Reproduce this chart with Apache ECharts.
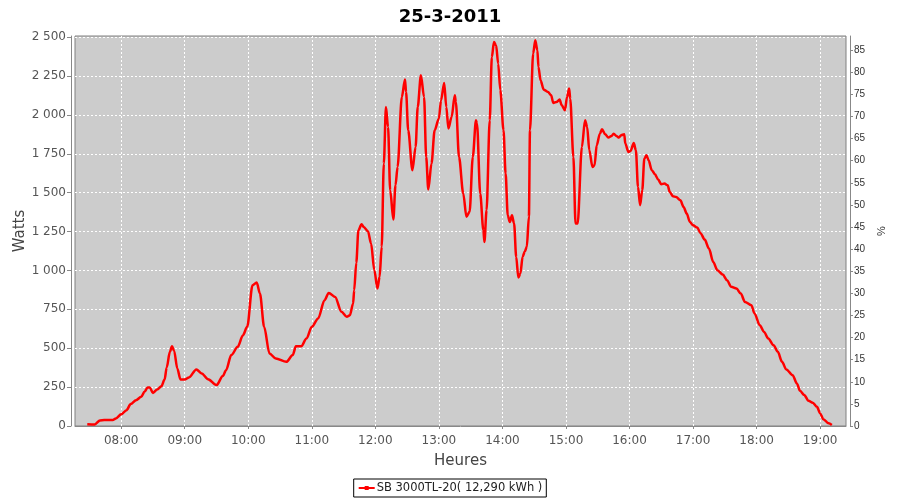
<!DOCTYPE html>
<html>
<head>
<meta charset="utf-8">
<script src="https://cdn.jsdelivr.net/npm/echarts@6/dist/echarts.min.js"></script>
<style>html,body{margin:0;padding:0;background:#fff}#c{width:900px;height:500px}</style>
</head>
<body>
<div id="c"></div>
<script>
const title = '25-3-2011';
const seriesName = 'SB 3000TL-20( 12,290 kWh )';
const times = ['07:28','07:35','07:40','07:44','07:52','07:55','08:00','08:05','08:09','08:14','08:19','08:22','08:25','08:27','08:30','08:34','08:38','08:41','08:43','08:46','08:48','08:50','08:53','08:56','09:00','09:04','09:11','09:16','09:22','09:30','09:36','09:39','09:44','09:50','09:55','09:59','10:04','10:08','10:11','10:15','10:20','10:26','10:36','10:42','10:45','10:50','10:55','11:00','11:06','11:12','11:16','11:22','11:28','11:33','11:36','11:39','11:40','11:42','11:44','11:47','11:49','11:53','11:56','11:59','12:02','12:04','12:06','12:08','12:10','12:12','12:14','12:17','12:19','12:21','12:25','12:28','12:29','12:31','12:35','12:38','12:40','12:43','12:46','12:48','12:50','12:53','12:56','13:00','13:02','13:05','13:07','13:09','13:12','13:15','13:16','13:19','13:23','13:26','13:29','13:32','13:35','13:36','13:39','13:42','13:43','13:45','13:48','13:50','13:52','13:54','13:56','13:58','14:01','14:03','14:05','14:07','14:09','14:11','14:13','14:15','14:17','14:19','14:21','14:23','14:25','14:26','14:29','14:31','14:33','14:34','14:36','14:39','14:43','14:46','14:48','14:51','14:54','14:56','14:59','15:01','15:03','15:04','15:07','15:09','15:11','15:15','15:18','15:20','15:22','15:25','15:27','15:29','15:32','15:34','15:37','15:40','15:43','15:45','15:48','15:50','15:52','15:55','15:56','15:59','16:01','16:04','16:06','16:08','16:10','16:12','16:14','16:16','16:18','16:21','16:24','16:27','16:30','16:33','16:36','16:38','16:41','16:44','16:48','16:51','16:54','16:57','17:00','17:04','17:07','17:11','17:15','17:19','17:23','17:28','17:32','17:36','17:41','17:45','17:49','17:55','17:58','18:03','18:07','18:11','18:16','18:20','18:24','18:28','18:34','18:38','18:41','18:45','18:49','18:53','18:57','19:00','19:03','19:08','19:11'];
const watts = [12,10,36,38,38,49,75,102,141,166,188,220,248,248,213,235,256,299,376,477,513,483,370,299,299,312,364,338,301,263,321,359,456,509,584,638,905,923,852,638,467,434,413,456,513,513,563,638,692,809,856,830,734,702,713,788,873,1050,1259,1297,1280,1252,1173,1002,884,959,1152,1688,2051,1923,1516,1328,1548,1666,2116,2228,2148,1902,1645,1794,2051,2255,2116,1730,1521,1688,1902,1977,2094,2206,2051,1913,1987,2127,2084,1730,1495,1345,1377,1730,1966,1945,1495,1259,1184,1388,1966,2373,2469,2448,2330,2159,1902,1623,1355,1312,1355,1302,1087,955,981,1087,1120,1152,1345,1902,2395,2480,2416,2309,2223,2163,2148,2127,2077,2084,2099,2062,2030,2116,2170,2105,1730,1302,1302,1794,1966,1923,1773,1666,1677,1805,1880,1908,1876,1855,1865,1880,1863,1855,1870,1876,1816,1762,1769,1820,1773,1537,1420,1516,1720,1741,1709,1645,1619,1585,1555,1559,1548,1505,1478,1473,1452,1409,1366,1312,1291,1276,1240,1199,1141,1055,1002,974,938,895,884,852,798,777,724,648,605,563,520,477,413,364,327,274,226,199,162,149,123,81,44,17,6];
const hourTicks = ['08:00','09:00','10:00','11:00','12:00','13:00','14:00','15:00','16:00','17:00','18:00','19:00'];
const wattTicks = [0,250,500,750,1000,1250,1500,1750,2000,2250,2500];
const pctTicks = [0,5,10,15,20,25,30,35,40,45,50,55,60,65,70,75,80,85];

const toMin = s => { const p = s.split(':'); return (+p[0]) * 60 + (+p[1]); };
const pad = n => (n < 10 ? '0' : '') + n;
const fmtMin = v => pad(Math.floor(Math.round(v) / 60)) + ':' + pad(Math.round(v) % 60);
const fmtW = v => { const s = String(Math.round(v)); return s.length > 3 ? s.slice(0, s.length - 3) + ' ' + s.slice(-3) : s; };

const data = times.map((t, i) => [toMin(t), watts[i]]);
const chart = echarts.init(document.getElementById('c'), null, { renderer: 'canvas' });
const gridLine = { show: true, lineStyle: { color: '#ffffff', type: [2, 2], width: 1 } };
chart.setOption({
  animation: false,
  backgroundColor: '#ffffff',
  textStyle: { fontFamily: 'DejaVu Sans' },
  title: { text: title, left: 'center', top: 3, textStyle: { fontSize: 18, fontWeight: 'bold', color: '#000', fontFamily: 'DejaVu Sans' } },
  grid: { left: 75, right: 54, top: 36, bottom: 74, show: true, backgroundColor: '#cccccc', borderColor: '#808080', borderWidth: 1 },
  legend: {
    left: 'center', bottom: 3, borderColor: '#000', borderWidth: 1, borderRadius: 0, padding: [3, 4],
    itemWidth: 16, itemHeight: 5, itemGap: 2,
    textStyle: { fontSize: 11.5, color: '#222', fontFamily: 'DejaVu Sans', padding: [0, 0, 0, -3] },
    data: [seriesName]
  },
  xAxis: {
    type: 'value', min: toMin('07:16') + 0.4, max: toMin('19:24') + 0.4, offset: 4,
    name: 'Heures', nameLocation: 'middle', nameGap: 24, nameMoveOverlap: false,
    nameTextStyle: { fontSize: 15, color: '#444' },
    axisLine: { show: true, lineStyle: { color: '#888' } },
    axisTick: { show: true, length: 3, lineStyle: { color: '#888' }, customValues: hourTicks.map(toMin) },
    axisLabel: { color: '#555', fontSize: 12, margin: 5, formatter: fmtMin, customValues: hourTicks.map(toMin) },
    splitLine: gridLine
  },
  yAxis: [{
    type: 'value', min: 0, max: 2508, offset: 4, position: 'left',
    name: 'Watts', nameLocation: 'middle', nameGap: 43, nameMoveOverlap: false,
    nameTextStyle: { fontSize: 15, color: '#444' },
    axisLine: { show: true, lineStyle: { color: '#888' } },
    axisTick: { show: true, length: 4, lineStyle: { color: '#888' }, customValues: wattTicks },
    axisLabel: { color: '#555', fontSize: 12, margin: 5, formatter: fmtW, customValues: wattTicks },
    splitLine: gridLine
  }, {
    type: 'value', min: 0, max: 88.2, offset: 4, position: 'right',
    name: '%', nameLocation: 'middle', nameGap: 26, nameMoveOverlap: false,
    nameTextStyle: { fontSize: 11, color: '#333', fontFamily: 'Liberation Sans' },
    axisLine: { show: true, lineStyle: { color: '#888' } },
    axisTick: { show: true, length: 3, lineStyle: { color: '#888' }, customValues: pctTicks },
    axisLabel: { color: '#333', fontSize: 10, margin: 4, fontFamily: 'Liberation Sans', customValues: pctTicks },
    splitLine: { show: false }
  }],
  series: [{
    name: seriesName, type: 'line', data: data, yAxisIndex: 0,
    smooth: 0.3, smoothMonotone: 'x', showSymbol: false, symbol: 'rect', symbolSize: 3,
    lineStyle: { color: '#ff0000', width: 2.5 }, itemStyle: { color: '#ff0000' }
  }]
});
</script>
</body>
</html>
